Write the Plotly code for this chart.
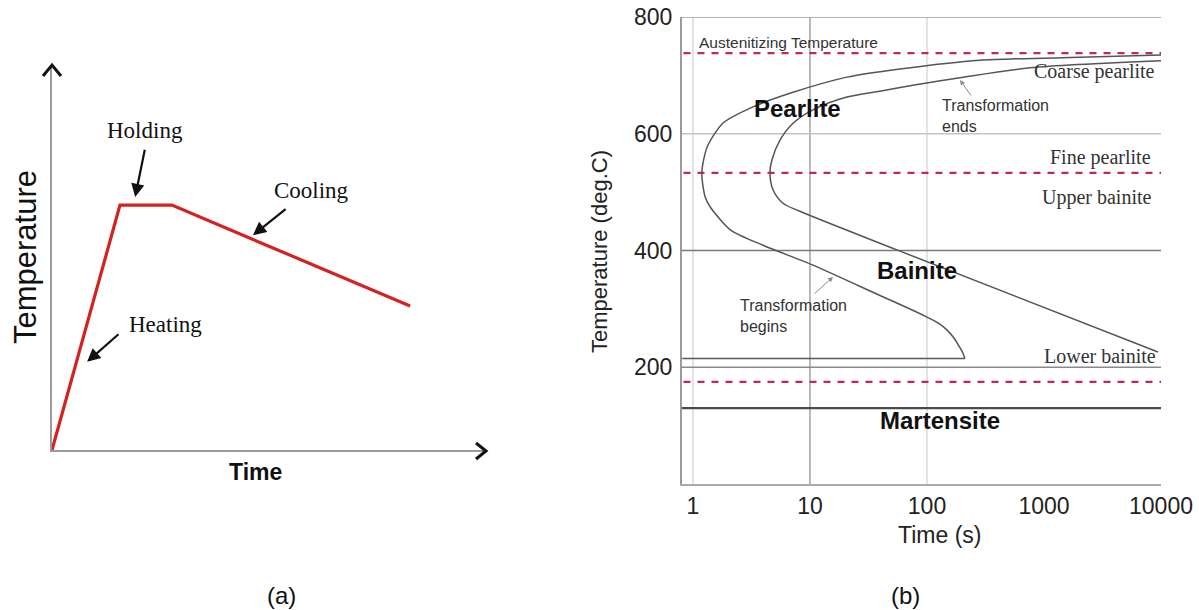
import math
import plotly.graph_objects as go

W, H = 1199, 610

# ---------------- Panel (a): schematic heat treatment ----------------
a_time = [0, 1.57, 2.77, 8.27]
a_temp = [0, 6.36, 6.36, 3.74]
a_labels = ["Holding", "Cooling", "Heating"]
a_label_pos = [(2.15, 8.31), (6.0, 6.75), (2.61, 3.25)]
a_arrow_tail = [(2.15, 7.84), (5.43, 6.29), (1.57, 3.04)]
a_arrow_head = [(1.92, 6.57), (4.64, 5.58), (0.81, 2.29)]

# ---------------- Panel (b): TTT diagram ----------------
t_begin = [10000, 2030, 284, 58.8, 20.7, 7.16, 3.26, 1.80, 1.32, 1.19, 1.27, 1.40,
           2.1, 3.97, 10.6, 39.6, 78.9, 100, 124, 148, 170, 188, 203, 211]
T_begin = [735, 731, 726, 711, 697, 671, 646, 618, 577, 533, 492, 475,
           435, 409, 375, 323, 296, 286, 276, 264, 250, 236, 224, 215]
t_bainite_start_line = [0.81, 211]
T_bainite_start_line = [215, 215]

t_end = [10000, 759, 191, 75.9, 39.6, 20.7, 10.6, 7.16, 5.54, 4.73, 4.55, 4.83,
         5.88, 8.0, 55.4, 9420]
T_end = [725, 713, 696, 683, 673, 663, 641, 618, 589, 555, 533, 504,
         481, 468, 401, 226]

red_dashed_T = [738, 533, 175]
phase_lines_T = [400, 200, 130]
phase_line_colors = ["#7a7a7a", "#8a8a8a", "#4a4a4a"]
phase_line_widths = [1.6, 1.6, 2.2]
grid_T = [800, 600]
grid_T_colors = ["#9a9a9a", "#c4c4c4"]
grid_t = [1, 10, 100]
grid_t_colors = ["#dcdcdc", "#a8a8a8", "#dcdcdc"]
x_tick_vals = [1, 10, 100, 1000, 10000]
x_tick_text = ["1", "10", "100", "1000", "10000"]
y_tick_vals = [200, 400, 600, 800]
y_tick_text = ["200", "400", "600", "800"]
t_min, t_max = 0.806, 10000

SANS = "Liberation Sans, Arial, sans-serif"
SERIF = "Liberation Serif, Times New Roman, serif"


def px(x):
    return x / W


def py(y):
    return 1 - y / H


fig = go.Figure()

for v, c in zip(grid_t, grid_t_colors):
    fig.add_trace(go.Scatter(x=[v, v], y=[0, 800], mode="lines",
                             line=dict(color=c, width=1.6), hoverinfo="skip",
                             showlegend=False, xaxis="x", yaxis="y"))
for v, c in zip(grid_T, grid_T_colors):
    fig.add_trace(go.Scatter(x=[t_min, t_max], y=[v, v], mode="lines",
                             line=dict(color=c, width=1.6), hoverinfo="skip",
                             showlegend=False, xaxis="x", yaxis="y"))
for v, c, w in zip(phase_lines_T, phase_line_colors, phase_line_widths):
    fig.add_trace(go.Scatter(x=[t_min, t_max], y=[v, v], mode="lines",
                             line=dict(color=c, width=w), hoverinfo="skip",
                             showlegend=False, xaxis="x", yaxis="y"))
for v in red_dashed_T:
    fig.add_trace(go.Scatter(x=[0.83, t_max], y=[v, v], mode="lines",
                             line=dict(color="#c2294f", width=2.2, dash="7px,7px"),
                             hoverinfo="skip", showlegend=False, xaxis="x", yaxis="y"))

fig.add_trace(go.Scatter(x=t_bainite_start_line, y=T_bainite_start_line, mode="lines",
                         line=dict(color="#5a5a5a", width=1.6), hoverinfo="skip",
                         showlegend=False, xaxis="x", yaxis="y"))
fig.add_trace(go.Scatter(x=t_begin, y=T_begin, mode="lines",
                         line=dict(color="#555555", width=1.5, shape="spline", smoothing=0.7),
                         showlegend=False, xaxis="x", yaxis="y"))
fig.add_trace(go.Scatter(x=t_end, y=T_end, mode="lines",
                         line=dict(color="#555555", width=1.5, shape="spline", smoothing=0.8),
                         showlegend=False, xaxis="x", yaxis="y"))

fig.add_trace(go.Scatter(x=a_time, y=a_temp, mode="lines",
                         line=dict(color="#d42222", width=3.2),
                         showlegend=False, xaxis="x2", yaxis="y2"))

annotations = []

for lab, (lx, ly), (tx, ty), (hx, hy) in zip(a_labels, a_label_pos, a_arrow_tail, a_arrow_head):
    annotations.append(dict(x=lx, y=ly, xref="x2", yref="y2", text=lab, showarrow=False,
                            xanchor="center", yanchor="middle",
                            font=dict(family=SERIF, size=23, color="#111")))
    annotations.append(dict(x=hx, y=hy, ax=tx, ay=ty, xref="x2", yref="y2",
                            axref="x2", ayref="y2", text="", showarrow=True,
                            arrowhead=2, arrowsize=1.2, arrowwidth=2.2, arrowcolor="#111"))


def t_ann(text, x, y, xanchor="center", size=16, family=SANS, color="#222", angle=0):
    annotations.append(dict(x=px(x), y=py(y), xref="paper", yref="paper", text=text,
                            xanchor=xanchor, yanchor="middle", showarrow=False,
                            textangle=angle,
                            font=dict(family=family, size=size, color=color), align="left"))


t_ann("Temperature", 25, 257, "center", 31, SANS, "#111", -90)
t_ann("<b>Time</b>", 255, 472, "center", 23, SANS, "#111")
t_ann("(a)", 281, 595, "center", 24, SANS, "#111")

t_ann("Austenitizing Temperature", 697, 42, "left", 15.5, SANS, "#333")
t_ann("<b>Pearlite</b>", 797, 108, "center", 24, SANS, "#111")
t_ann("Coarse pearlite", 1157, 72, "right", 20, SERIF, "#333")
t_ann("Transformation<br>ends", 940, 116, "left", 16, SANS, "#333")
t_ann("Fine pearlite", 1153, 157, "right", 20, SERIF, "#333")
t_ann("Upper bainite", 1154, 198, "right", 20, SERIF, "#333")
t_ann("<b>Bainite</b>", 917, 270, "center", 24, SANS, "#111")
t_ann("Transformation<br>begins", 738, 316, "left", 16, SANS, "#333")
t_ann("Lower bainite", 1158, 356, "right", 20, SERIF, "#333")
t_ann("<b>Martensite</b>", 940, 420, "center", 24, SANS, "#111")
t_ann("Temperature (deg.C)", 600, 252, "center", 22, SANS, "#222", -90)
t_ann("Time (s)", 939, 535, "center", 23, SANS, "#222")
t_ann("(b)", 905, 595, "center", 24, SANS, "#111")

annotations.append(dict(x=px(960), y=py(80), xref="paper", yref="paper", ax=12, ay=17,
                        text="", showarrow=True, arrowhead=2, arrowsize=1,
                        arrowwidth=1, arrowcolor="#8a8a8a"))
annotations.append(dict(x=px(833), y=py(277), xref="paper", yref="paper", ax=-20, ay=18,
                        text="", showarrow=True, arrowhead=2, arrowsize=1,
                        arrowwidth=1, arrowcolor="#8a8a8a"))


def chevron(points):
    d = "M " + " L ".join(f"{px(x):.5f},{py(y):.5f}" for x, y in points)
    return dict(type="path", path=d, xref="paper", yref="paper",
                line=dict(color="#111", width=3))


shapes = [
    chevron([(476, 443), (486, 451), (476, 459)]),   # x-axis arrow of panel (a)
    chevron([(43, 76), (52, 65), (61, 76)]),         # y-axis arrow of panel (a)
]

fig.update_layout(
    width=W, height=H,
    margin=dict(l=0, r=0, t=0, b=0, autoexpand=False),
    paper_bgcolor="white", plot_bgcolor="white",
    showlegend=False,
    xaxis=dict(type="log", domain=[px(682), px(1161)],
               range=[math.log10(t_min), math.log10(t_max)],
               tickvals=x_tick_vals, ticktext=x_tick_text, showgrid=False,
               zeroline=False, showline=True, linecolor="#ababab", linewidth=2,
               ticks="", ticklabelstandoff=0, automargin=False,
               tickfont=dict(family=SANS, size=23, color="#222"), anchor="y"),
    yaxis=dict(domain=[py(484), py(17)], range=[0, 800],
               tickvals=y_tick_vals, ticktext=y_tick_text, showgrid=False,
               zeroline=False, showline=True, linecolor="#9a9a9a", linewidth=2,
               ticks="", ticklabelstandoff=3, automargin=False,
               tickfont=dict(family=SANS, size=23, color="#222"), anchor="x"),
    xaxis2=dict(domain=[px(52), px(485)], range=[0, 10], showgrid=False,
                zeroline=False, showline=True, linecolor="#9a9a9a", linewidth=1.6,
                showticklabels=False, ticks="", anchor="y2", automargin=False),
    yaxis2=dict(domain=[py(450), py(65)], range=[0, 10], showgrid=False,
                zeroline=False, showline=True, linecolor="#9a9a9a", linewidth=1.6,
                showticklabels=False, ticks="", anchor="x2", automargin=False),
    annotations=annotations,
    shapes=shapes,
)

fig.write_html("out.html", config={"displayModeBar": False},
               post_script="document.body.style.margin='0px';document.body.style.overflow='hidden';")
